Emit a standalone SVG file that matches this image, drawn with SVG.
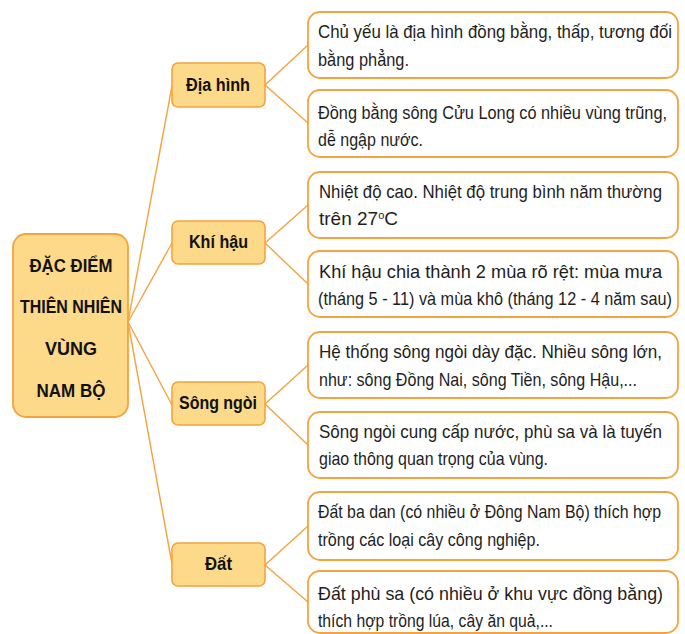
<svg xmlns="http://www.w3.org/2000/svg" width="685" height="634" viewBox="0 0 685 634">
<style>
.bg{fill:#ffffff}
.root{fill:#FDD98A;stroke:#F5A33C;stroke-width:1.8}
.mid{fill:#FDD98A;stroke:#F5A33C;stroke-width:1.6}
.leaf{fill:#ffffff;stroke:#F5A33C;stroke-width:1.8}
.conn{fill:none;stroke:#F5A33C;stroke-width:1.4}
.tb{font-family:"Liberation Sans",Arial,sans-serif;font-weight:bold;font-size:18px;fill:#111111;text-anchor:middle}
.tr{font-size:19px}
.tl{font-family:"Liberation Sans",Arial,sans-serif;font-size:19px;fill:#1e1e1e}
</style>
<rect class="bg" x="0" y="0" width="685" height="634"/>
<g id="connectors">
<line class="conn" x1="128" y1="322" x2="172" y2="86"/>
<line class="conn" x1="128" y1="322" x2="172" y2="243"/>
<line class="conn" x1="128" y1="322" x2="172" y2="405"/>
<line class="conn" x1="128" y1="322" x2="172" y2="564"/>
<polyline class="conn" points="308,45 265,85 308,123"/>
<polyline class="conn" points="308,205 265,243 308,284"/>
<polyline class="conn" points="308,365 265,404 308,445"/>
<polyline class="conn" points="308,526 265,565 308,602"/>
</g>
<g id="root">
<rect class="root" x="13" y="234" width="115" height="183" rx="13"/>
<text class="tb tr" x="71" y="272" textLength="83" lengthAdjust="spacingAndGlyphs">ĐẶC ĐIỂM</text>
<text class="tb tr" x="71" y="313" textLength="102" lengthAdjust="spacingAndGlyphs">THIÊN NHIÊN</text>
<text class="tb tr" x="71" y="355" textLength="52" lengthAdjust="spacingAndGlyphs">VÙNG</text>
<text class="tb tr" x="71" y="397" textLength="69" lengthAdjust="spacingAndGlyphs">NAM BỘ</text>
</g>
<g id="dia-hinh">
<rect class="mid" x="172" y="63" width="93" height="44" rx="6"/>
<text class="tb" x="218" y="91" textLength="64" lengthAdjust="spacingAndGlyphs">Địa hình</text>
</g>
<g id="khi-hau">
<rect class="mid" x="172" y="221" width="93" height="43" rx="6"/>
<text class="tb" x="218.5" y="248" textLength="59" lengthAdjust="spacingAndGlyphs">Khí hậu</text>
</g>
<g id="song-ngoi">
<rect class="mid" x="172" y="382" width="93" height="43" rx="6"/>
<text class="tb" x="218" y="409" textLength="78" lengthAdjust="spacingAndGlyphs">Sông ngòi</text>
</g>
<g id="dat">
<rect class="mid" x="172" y="543" width="93" height="43" rx="6"/>
<text class="tb" x="218.5" y="570" textLength="27" lengthAdjust="spacingAndGlyphs">Đất</text>
</g>
<g id="leaf1">
<rect class="leaf" x="308" y="12" width="370" height="66" rx="12"/>
<text class="tl" x="318" y="38" textLength="354" lengthAdjust="spacingAndGlyphs">Chủ yếu là địa hình đồng bằng, thấp, tương đối</text>
<text class="tl" x="318" y="66" textLength="91" lengthAdjust="spacingAndGlyphs">bằng phẳng.</text>
</g>
<g id="leaf2">
<rect class="leaf" x="308" y="90" width="370" height="67" rx="12"/>
<text class="tl" x="318" y="119" textLength="349" lengthAdjust="spacingAndGlyphs">Đồng bằng sông Cửu Long có nhiều vùng trũng,</text>
<text class="tl" x="318" y="146" textLength="105" lengthAdjust="spacingAndGlyphs">dễ ngập nước.</text>
</g>
<g id="leaf3">
<rect class="leaf" x="308" y="172" width="370" height="66" rx="12"/>
<text class="tl" x="319" y="198" textLength="343" lengthAdjust="spacingAndGlyphs">Nhiệt độ cao. Nhiệt độ trung bình năm thường</text>
<text class="tl" x="319" y="225" font-size="18">trên 27<tspan font-size="11" dy="-6">o</tspan><tspan dy="6">C</tspan></text>
</g>
<g id="leaf4">
<rect class="leaf" x="308" y="251" width="370" height="66" rx="12"/>
<text class="tl" x="319" y="278" textLength="343" lengthAdjust="spacingAndGlyphs">Khí hậu chia thành 2 mùa rõ rệt: mùa mưa</text>
<text class="tl" x="318" y="305" textLength="354" lengthAdjust="spacingAndGlyphs">(tháng 5 - 11) và mùa khô (tháng 12 - 4 năm sau)</text>
</g>
<g id="leaf5">
<rect class="leaf" x="308" y="332" width="370" height="66" rx="12"/>
<text class="tl" x="319" y="358" textLength="343" lengthAdjust="spacingAndGlyphs">Hệ thống sông ngòi dày đặc. Nhiều sông lớn,</text>
<text class="tl" x="319" y="386" textLength="318" lengthAdjust="spacingAndGlyphs">như: sông Đồng Nai, sông Tiền, sông Hậu,...</text>
</g>
<g id="leaf6">
<rect class="leaf" x="308" y="412" width="370" height="66" rx="12"/>
<text class="tl" x="319" y="438" textLength="343" lengthAdjust="spacingAndGlyphs">Sông ngòi cung cấp nước, phù sa và là tuyến</text>
<text class="tl" x="319" y="465" textLength="229" lengthAdjust="spacingAndGlyphs">giao thông quan trọng của vùng.</text>
</g>
<g id="leaf7">
<rect class="leaf" x="308" y="492" width="370" height="68" rx="12"/>
<text class="tl" x="318" y="518" textLength="343" lengthAdjust="spacingAndGlyphs">Đất ba dan (có nhiều ở Đông Nam Bộ) thích hợp</text>
<text class="tl" x="318" y="546" textLength="222" lengthAdjust="spacingAndGlyphs">trồng các loại cây công nghiệp.</text>
</g>
<g id="leaf8">
<rect class="leaf" x="308" y="571" width="370" height="62" rx="12"/>
<text class="tl" x="318" y="600" textLength="345" lengthAdjust="spacingAndGlyphs">Đất phù sa (có nhiều ở khu vực đồng bằng)</text>
<text class="tl" x="318" y="627" textLength="235" lengthAdjust="spacingAndGlyphs">thích hợp trồng lúa, cây ăn quả,...</text>
</g>
</svg>
